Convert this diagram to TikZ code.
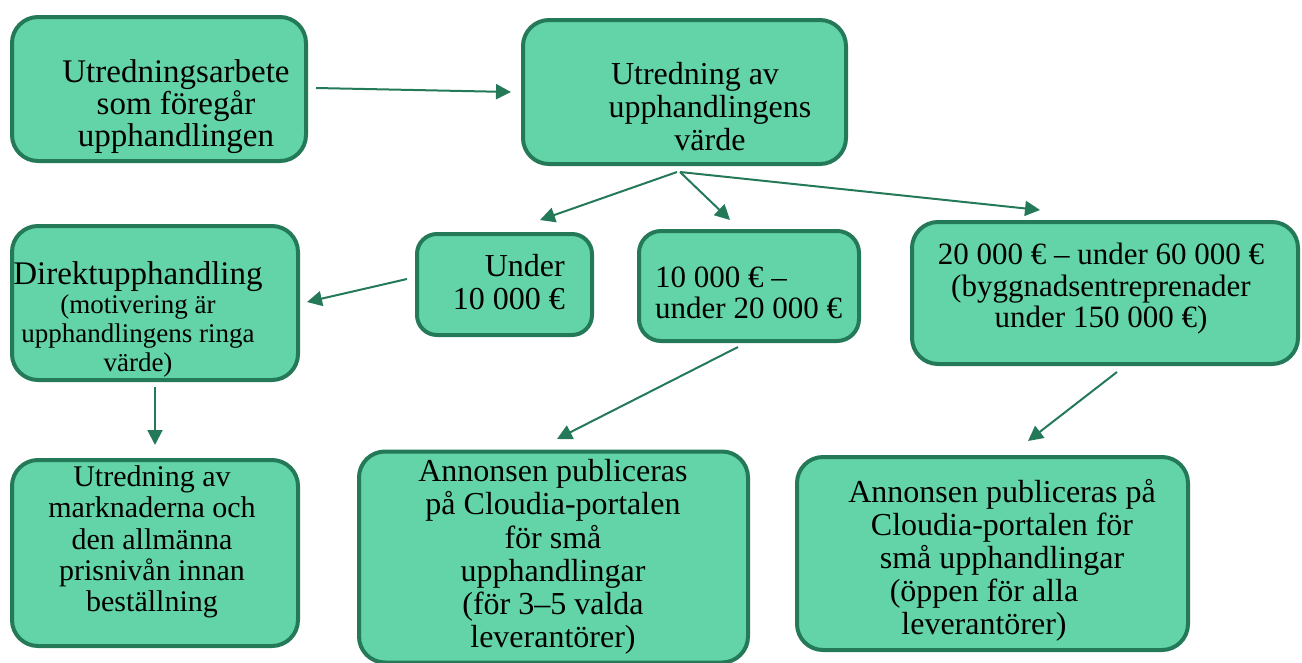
\documentclass[tikz,border=0pt]{standalone}
\usepackage{fontspec}
\setmainfont{Liberation Serif}
\usetikzlibrary{arrows.meta}
\definecolor{boxfill}{HTML}{63D3A8}
\definecolor{boxline}{HTML}{247A58}
\tikzset{
  box/.style={draw=boxline, fill=boxfill, line width=4pt, rounded corners=26pt, inner sep=0pt},
  txt/.style={inner sep=0pt, font=\fontsize{32}{32.5}\selectfont, text=black},
  arr/.style={draw=boxline, line width=2pt, -{Triangle[length=15pt,width=15pt]}}
}
\begin{document}
\begin{tikzpicture}[x=1pt,y=-1pt]
\useasboundingbox (0,0) rectangle (1302,662);
% boxes
\node[box, minimum width=294pt, minimum height=144pt] (A) at (159,89) {};
\node[box, minimum width=323pt, minimum height=144pt] (B) at (684.5,92) {};
\node[box, minimum width=286pt, minimum height=154pt] (C) at (155,303) {};
\node[box, minimum width=175pt, minimum height=101pt, rounded corners=20pt] (D) at (504.5,284.5) {};
\node[box, minimum width=220pt, minimum height=110pt, rounded corners=22pt] (E) at (749,286) {};
\node[box, minimum width=386pt, minimum height=142pt] (F) at (1105,293) {};
\node[box, minimum width=286pt, minimum height=186pt] (G) at (155,553) {};
\node[box, minimum width=389pt, minimum height=211pt] (H) at (553.5,557) {};
\node[box, minimum width=391pt, minimum height=193pt] (I) at (992.5,553.5) {};
% texts
\node[txt, align=center, font=\fontsize{33}{32}\selectfont] (tA) at (176,107) {Utredningsarbete\\som föregår\\upphandlingen};
\node[txt, align=center, font=\fontsize{32}{33}\selectfont] (tB) at (710,107) {Utredning av\kern30pt\\upphandlingens\\värde};
\node[txt, align=center, anchor=north, font=\fontsize{27}{29}\selectfont] (tC) at (138,261) {{\fontsize{33}{30}\selectfont Direktupphandling}\\(motivering är\\upphandlingens ringa\\värde)};
\node[txt, align=right, anchor=east] (tD) at (565,282) {Under\\10 000 €};
\node[txt, align=left, anchor=west, font=\fontsize{31}{30.5}\selectfont] (tE) at (655,293) {10 000 € –\\under 20 000 €};
\node[txt, align=center, font=\fontsize{31}{31.5}\selectfont] (tF) at (1101,289) {20 000 € – under 60 000 €\\(byggnadsentreprenader\\under 150 000 €)};
\node[txt, align=center, font=\fontsize{30}{31.3}\selectfont] (tG) at (152,542) {Utredning av\\marknaderna och\\den allmänna\\prisnivån innan\\beställning};
\node[txt, align=center, font=\fontsize{32}{33.2}\selectfont] (tH) at (553,557) {Annonsen publiceras\\på Cloudia-portalen\\för små\\upphandlingar\\(för 3–5 valda\\leverantörer)};
\node[txt, align=center, font=\fontsize{32}{33}\selectfont] (tI) at (1002,560) {Annonsen publiceras på\\Cloudia-portalen för\\små upphandlingar\\(öppen för alla\kern36pt\\leverantörer)\kern36pt};
% connectors
\draw[arr] ([xshift=8pt,yshift=1pt]A.east) -- ([xshift=-10pt]B.west);
\draw[arr] ([xshift=-7.5pt,yshift=-6pt]B.south) -- ([xshift=35.5pt,yshift=12pt]D.north);
\draw[arr] ([xshift=-4.5pt,yshift=-6pt]B.south) -- ([xshift=-19pt,yshift=9pt]E.north);
\draw[arr] ([xshift=-4.5pt,yshift=-6pt]B.south) -- ([xshift=-65pt,yshift=10pt]F.north);
\draw[arr] ([xshift=-8pt,yshift=5.5pt]D.west) -- ([xshift=7pt,yshift=1pt]C.east);
\draw[arr] ([yshift=-5pt]C.south) -- ([yshift=13pt]G.north);
\draw[arr] ([xshift=-11pt,yshift=-4pt]E.south) -- ([xshift=3.5pt,yshift=10.5pt]H.north);
\draw[arr] ([xshift=12pt,yshift=-6pt]F.south) -- ([xshift=35.5pt,yshift=14pt]I.north);
\end{tikzpicture}
\end{document}
